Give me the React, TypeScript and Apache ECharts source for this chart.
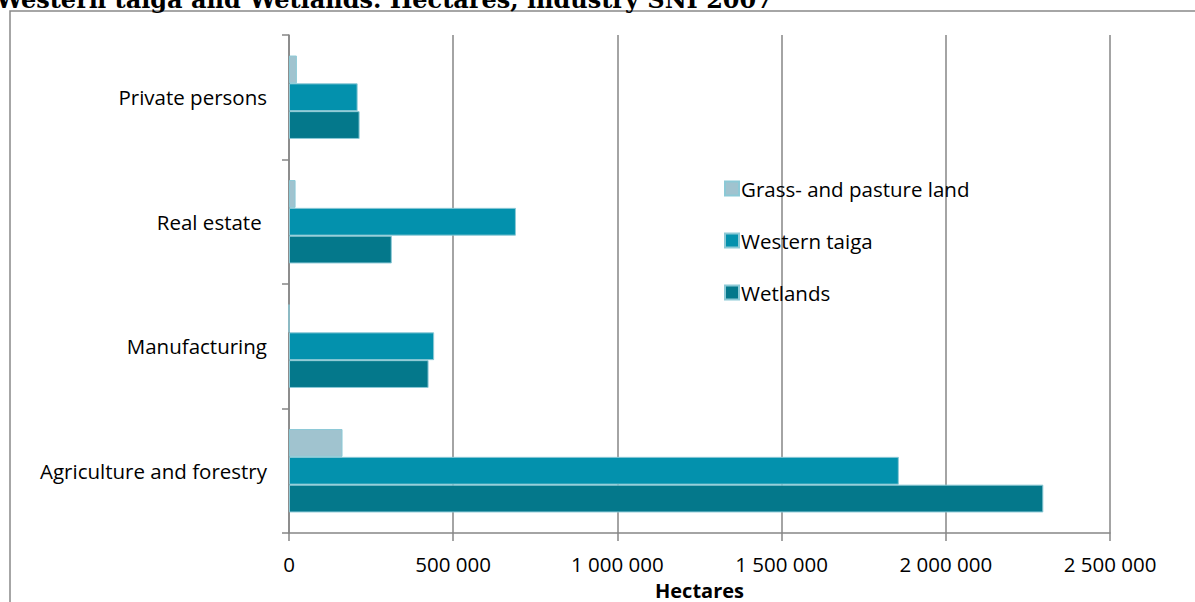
import React, { useEffect, useRef } from "react";
import * as echarts from "echarts";

const categories = ["Agriculture and forestry", "Manufacturing", "Real estate ", "Private persons"];
const grassLand = [163000, 0, 20000, 24000];
const westernTaiga = [1857000, 442000, 691000, 209000];
const wetlands = [2297000, 425000, 313000, 215000];
const xTicks = { min: 0, max: 2500000, interval: 500000 };
const legendOrder = ["Grass- and pasture land", "Western taiga", "Wetlands"];
const titleText = "Western taiga and Wetlands. Hectares, industry SNI 2007";

const FONT = "'Open Sans', Lato, sans-serif";

function fmt(v: number): string {
  return String(Math.round(v)).replace(/\B(?=(\d{3})+(?!\d))/g, " ");
}

export default function App() {
  const ref = useRef<HTMLDivElement>(null);
  useEffect(() => {
    if (!ref.current) return;
    const chart = echarts.init(ref.current, null, { renderer: "svg" });
    const border = { borderColor: "#8cc9d6", borderWidth: 1 };
    chart.setOption({
      animation: false,
      backgroundColor: "#ffffff",
      textStyle: { fontFamily: FONT },
      graphic: [
        {
          type: "rect",
          shape: { x: 10, y: 11, width: 1200, height: 600 },
          style: { fill: "none", stroke: "#898989", lineWidth: 1.5 },
          silent: true,
        },
        {
          type: "text",
          x: -4,
          y: -13,
          style: {
            text: titleText,
            font: "bold 24px 'DejaVu Serif', serif",
            fill: "#000",
            verticalAlign: "top",
          },
          silent: true,
        },
      ],
      grid: { left: 289, right: 85, top: 35, bottom: 69, containLabel: false, outerBoundsMode: "none" },
      legend: {
        orient: "vertical",
        left: 719,
        top: 173,
        itemWidth: 14,
        itemHeight: 14,
        itemGap: 31,
        icon: "rect",
        data: legendOrder,
        textStyle: { fontSize: 20.5, color: "#000", fontFamily: FONT, padding: [0, 0, 0, -3] },
      },
      xAxis: {
        type: "value",
        min: xTicks.min,
        max: xTicks.max,
        interval: xTicks.interval,
        name: "Hectares",
        nameLocation: "middle",
        nameGap: 47,
        nameTextStyle: { fontSize: 20, fontWeight: "bold", color: "#000", fontFamily: FONT },
        axisLine: { show: true, lineStyle: { color: "#868686", width: 1.5 } },
        axisTick: { show: true, length: 8, lineStyle: { color: "#868686", width: 1.5 } },
        axisLabel: { fontSize: 20.5, color: "#000", margin: 20, formatter: (v: number) => fmt(v), fontFamily: FONT },
        splitLine: { show: true, lineStyle: { color: "#868686", width: 1.5 } },
      },
      yAxis: {
        type: "category",
        data: categories,
        axisLine: { show: true, lineStyle: { color: "#868686", width: 1.5 } },
        axisTick: { show: true, length: 7, lineStyle: { color: "#868686", width: 1.5 } },
        axisLabel: { fontSize: 20.5, color: "#000", margin: 22, fontFamily: FONT },
        splitLine: { show: false },
      },
      series: [
        {
          name: "Grass- and pasture land",
          type: "bar",
          data: grassLand,
          itemStyle: { color: "#a0c3cf", ...border },
          barGap: "0%",
          barCategoryGap: "33%",
        },
        {
          name: "Western taiga",
          type: "bar",
          data: westernTaiga,
          itemStyle: { color: "#0391ad", ...border },
          barGap: "0%",
          barCategoryGap: "33%",
        },
        {
          name: "Wetlands",
          type: "bar",
          data: wetlands,
          itemStyle: { color: "#04788b", ...border },
          barGap: "0%",
          barCategoryGap: "33%",
        },
      ],
    });
    return () => chart.dispose();
  }, []);
  return <div ref={ref} style={{ width: 1195, height: 602, position: "absolute", left: 0, top: 0 }} />;
}
